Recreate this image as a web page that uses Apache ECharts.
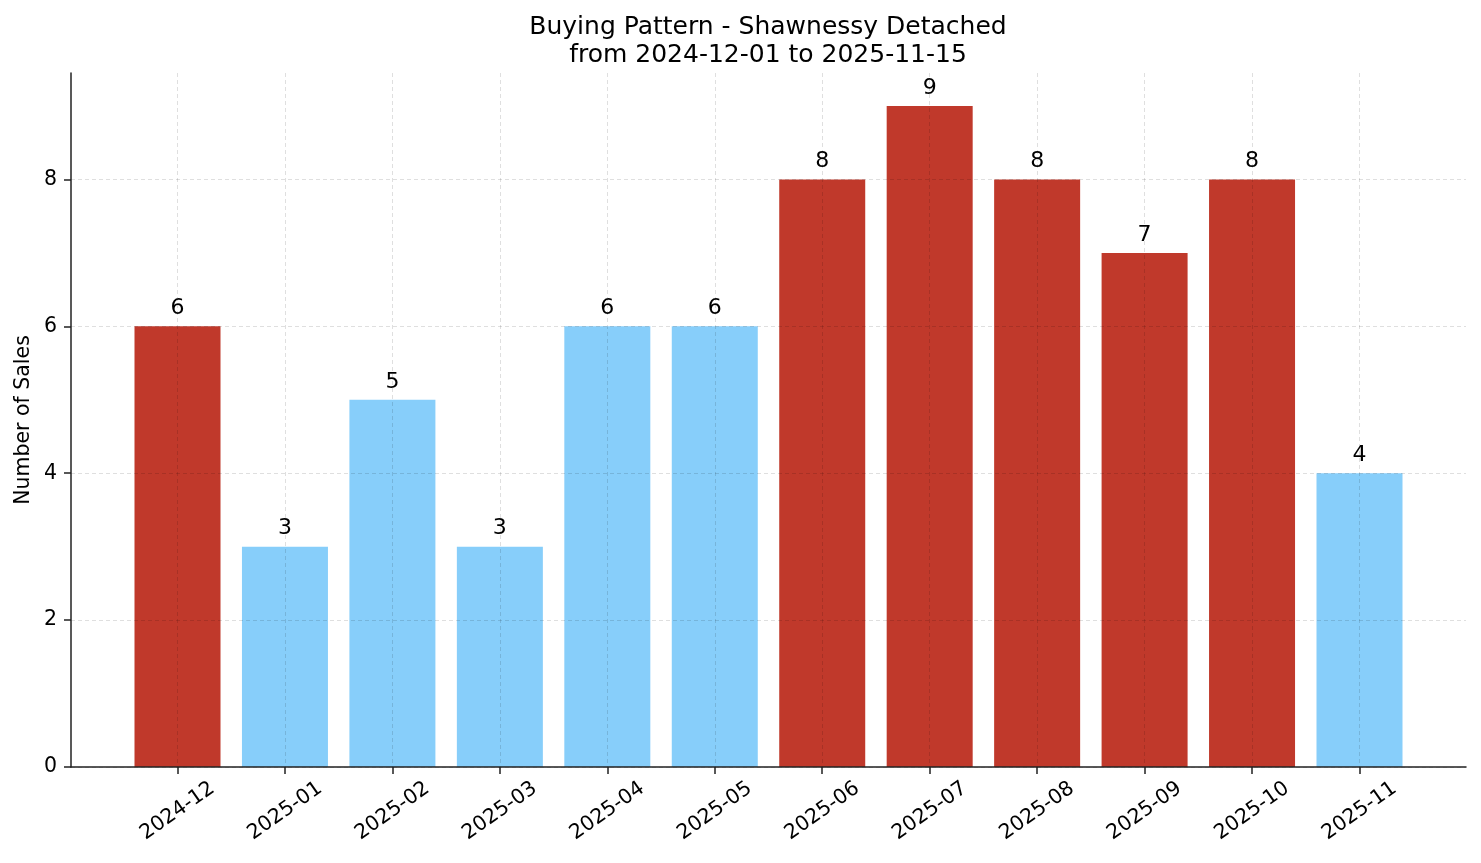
<!DOCTYPE html>
<html>
<head>
<meta charset="utf-8">
<title>Buying Pattern - Shawnessy Detached</title>
<script src="https://cdn.jsdelivr.net/npm/echarts@6/dist/echarts.min.js"></script>
<style>
  html, body { margin: 0; padding: 0; background: #fff; }
  #chart { width: 1481px; height: 863px; }
</style>
</head>
<body>
<div id="chart"></div>
<script>
// data
var months = ['2024-12', '2025-01', '2025-02', '2025-03', '2025-04', '2025-05',
              '2025-06', '2025-07', '2025-08', '2025-09', '2025-10', '2025-11'];
var sales = [6, 3, 5, 3, 6, 6, 8, 9, 8, 7, 8, 4];
// busy months drawn in red, the rest in light blue
var busy = [true, false, false, false, false, false, true, true, true, true, true, false];
var yMax = 9.45;     // top of the plot area
var yTickMax = 8;    // last labelled tick
var yStep = 2;

var RED = '#c0392b', BLUE = '#87cefa';
var FONT = 'DejaVu Sans';
var gridColor = 'rgba(0,0,0,0.16)';
var spine = { color: '#222', width: 1.5 };

// plot frame in pixels
var L = 71, R = 15, T = 73, B = 96;
var plotH = 863 - T - B;
var tickTop = T + plotH * (1 - yTickMax / yMax);   // where "8" sits

var barData = [];
for (var i = 0; i < sales.length; i++) {
    barData.push({
        value: [i, sales[i]],
        itemStyle: { color: busy[i] ? RED : BLUE }
    });
}

var myChart = echarts.init(document.getElementById('chart'));
myChart.setOption({
    animation: false,
    textStyle: { fontFamily: FONT },
    title: {
        text: 'Buying Pattern - Shawnessy Detached\nfrom 2024-12-01 to 2025-11-15',
        left: 763,   // roughly centred over the plot, not the page
        textAlign: 'center',
        top: 8,
        textStyle: { fontFamily: FONT, fontSize: 25, fontWeight: 'normal', color: '#000', lineHeight: 28.5 }
    },
    grid: [
        // 0: outer frame, spines only
        { left: L, right: R, top: T, bottom: B },
        // 1: first bar centre to last bar centre (bars, x ticks, vertical grid)
        { left: 177.5, right: 121.5, top: T, bottom: B },
        // 2: y ticks 0..8 and horizontal grid
        { left: L, right: R, top: tickTop, bottom: B }
    ],
    xAxis: [
        {
            type: 'value', gridIndex: 0, min: 0, max: 1, z: 6,
            axisLine: { show: true, lineStyle: spine },
            axisTick: { show: false }, axisLabel: { show: false }, splitLine: { show: false }
        },
        {
            type: 'value', gridIndex: 1, min: 0, max: 11, interval: 1, z: 5,
            axisLine: { show: false },
            axisTick: { show: true, length: 7, lineStyle: spine },
            axisLabel: {
                rotate: 35, fontSize: 20.5, color: '#000', margin: 44,
                align: 'center', verticalAlign: 'middle',
                formatter: function (v) { return months[v]; }
            },
            splitLine: { show: true, lineStyle: { color: gridColor, type: [4, 3], width: 0.8 } }
        },
        {
            type: 'value', gridIndex: 2, min: 0, max: 1, show: false
        }
    ],
    yAxis: [
        {
            type: 'value', gridIndex: 0, min: 0, max: 1, z: 6,
            name: 'Number of Sales', nameLocation: 'middle', nameGap: 37,
            nameTextStyle: { fontFamily: FONT, fontSize: 20.5, color: '#000' },
            axisLine: { show: true, lineStyle: spine },
            axisTick: { show: false }, axisLabel: { show: false }, splitLine: { show: false }
        },
        {
            type: 'value', gridIndex: 1, min: 0, max: yMax, show: false
        },
        {
            type: 'value', gridIndex: 2, min: 0, max: yTickMax, interval: yStep, z: 5,
            axisLine: { show: false },
            axisTick: { show: true, length: 7, lineStyle: spine },
            axisLabel: { fontSize: 20.5, color: '#000', margin: 14 },
            splitLine: { show: true, lineStyle: { color: gridColor, type: [4, 3], width: 0.8 } }
        }
    ],
    series: [{
        type: 'bar',
        xAxisIndex: 1,
        yAxisIndex: 1,
        barWidth: 86,
        clip: false,
        data: barData,
        label: {
            show: true, position: 'top', distance: 7,
            fontFamily: FONT, fontSize: 22, color: '#000',
            formatter: function (p) { return p.value[1]; }
        }
    }]
});
</script>
</body>
</html>
